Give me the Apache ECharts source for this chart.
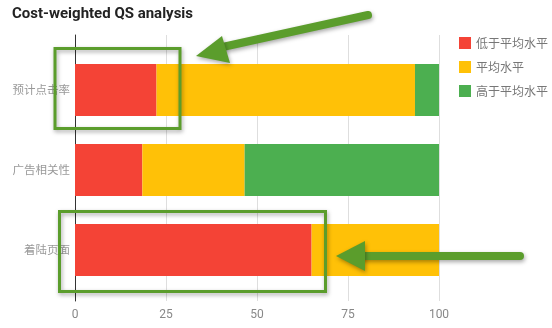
<!DOCTYPE html>
<html><head><meta charset="utf-8">
<script src="https://cdn.jsdelivr.net/npm/echarts@6/dist/echarts.min.js"></script>
<style>html,body{margin:0;padding:0;background:#fff}#c{width:552px;height:328px}</style>
</head><body><div id="c"></div>
<script>
const categories = ['预计点击率', '广告相关性', '着陆页面'];
const seriesNames = ['低于平均水平', '平均水平', '高于平均水平'];
const belowAvg = [22.4, 18.5, 65];
const avg = [71, 28.1, 35];
const aboveAvg = [6.6, 53.4, 0];
const xTicks = [0, 25, 50, 75, 100];
const colors = ['#f44336', '#ffc107', '#4caf50'];

const chart = echarts.init(document.getElementById('c'), null, {renderer: 'canvas'});
const green = '#5b9d2c';
const shadow = {shadowBlur: 4, shadowColor: 'rgba(0,0,0,0.35)', shadowOffsetX: 1, shadowOffsetY: 2};
const values = [belowAvg, avg, aboveAvg];
chart.setOption({
  animation: false,
  color: colors,
  title: {text: 'Cost-weighted QS analysis', left: 12, top: 7, padding: 0,
    textStyle: {fontFamily: 'Roboto', fontWeight: 'bold', fontSize: 15, color: '#222'}},
  legend: {orient: 'vertical', left: 459, top: 37, padding: 0, itemWidth: 12, itemHeight: 12, itemGap: 12,
    icon: 'rect', data: seriesNames,
    textStyle: {fontSize: 12, color: '#777', fontFamily: 'Noto Sans CJK SC'}},
  grid: [
    {left: 75, right: 113, top: 50, bottom: 38},
    {left: 75, right: 113, top: 35, bottom: 27}
  ],
  xAxis: [
    {type: 'value', gridIndex: 0, min: 0, max: 100, show: false},
    {type: 'value', gridIndex: 1, min: xTicks[0], max: xTicks[xTicks.length-1], interval: 25,
      axisLine: {show: false}, axisTick: {show: false},
      axisLabel: {color: '#888', fontSize: 12, margin: 8, fontFamily: 'Roboto'},
      splitLine: {lineStyle: {color: '#dedede'}}}
  ],
  yAxis: [
    {type: 'category', gridIndex: 0, data: categories, inverse: true,
      axisLine: {show: false}, axisTick: {show: false},
      axisLabel: {color: '#999', fontSize: 11.5, margin: 5, fontFamily: 'Noto Sans CJK SC'}},
    {type: 'value', gridIndex: 1, min: 0, max: 1,
      axisLine: {show: true, lineStyle: {color: '#333', width: 1}},
      axisTick: {show: false}, axisLabel: {show: false}, splitLine: {show: false}}
  ],
  series: seriesNames.map((n, i) => ({
    name: n, type: 'bar', stack: 'total', xAxisIndex: 0, yAxisIndex: 0,
    barWidth: 52, data: values[i], z: 3
  })),
  graphic: [
    {type: 'rect', shape: {x: 55, y: 48.5, width: 125, height: 80},
      style: Object.assign({fill: null, stroke: green, lineWidth: 3}, shadow), z: 100},
    {type: 'rect', shape: {x: 59.5, y: 211.5, width: 266, height: 80},
      style: Object.assign({fill: null, stroke: green, lineWidth: 3}, shadow), z: 100},
    {type: 'polyline', shape: {points: [[368, 15], [218, 48]]},
      style: Object.assign({stroke: green, lineWidth: 8, lineCap: 'round', fill: null}, shadow), z: 100},
    {type: 'polygon', shape: {points: [[196, 56], [222, 36], [230, 63]]},
      style: Object.assign({fill: green}, shadow), z: 100},
    {type: 'polyline', shape: {points: [[520, 256], [360, 256]]},
      style: Object.assign({stroke: green, lineWidth: 8, lineCap: 'round', fill: null}, shadow), z: 100},
    {type: 'polygon', shape: {points: [[336, 256], [365, 241], [365, 271]]},
      style: Object.assign({fill: green}, shadow), z: 100}
  ]
});
</script></body></html>
